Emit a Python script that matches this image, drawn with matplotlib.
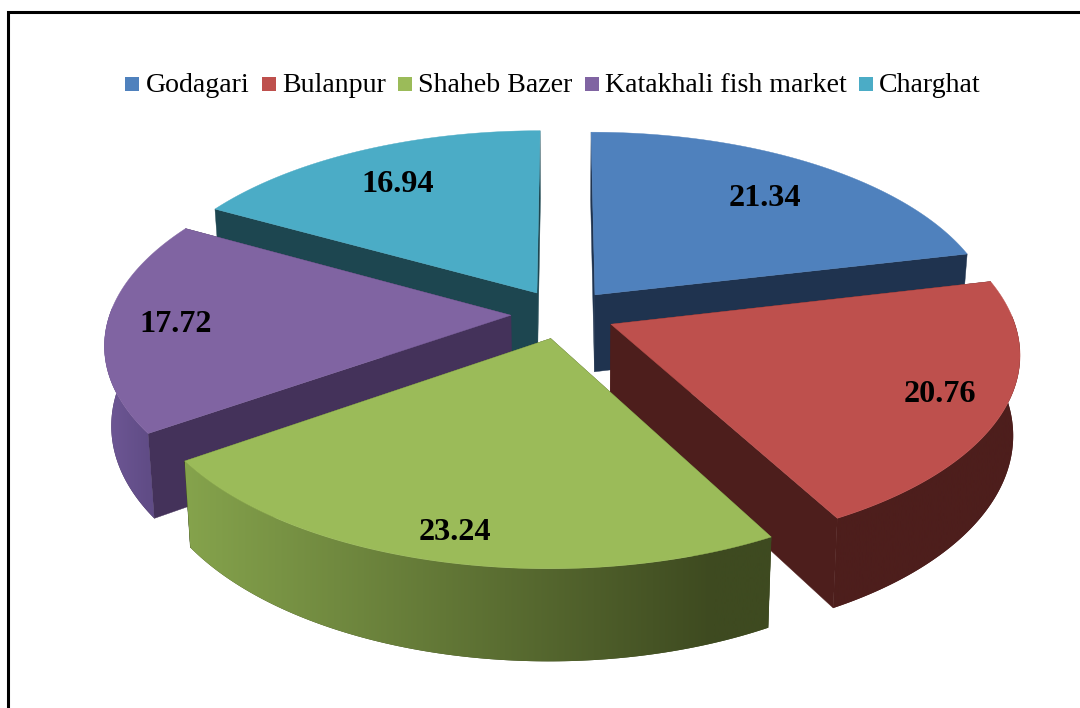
import numpy as np
import matplotlib
matplotlib.use("Agg")
import matplotlib.pyplot as plt
from matplotlib.colors import LinearSegmentedColormap
from matplotlib.patches import Polygon

markets = ["Godagari", "Bulanpur", "Shaheb Bazer", "Katakhali fish market", "Charghat"]
shares = [21.34, 20.76, 23.24, 17.72, 16.94]

top_colors = ["#4F81BD", "#BE504D", "#9BBB59", "#8064A2", "#4BACC6"]
cut_colors = ["#1F334F", "#4D1E1C", "#3E4A20", "#44325A", "#1D4650"]
# outer wall colour at left and right end of the wall
wall_left = ["#1F334F", "#4D1E1C", "#85A34C", "#6F5896", "#1D4650"]
wall_right = ["#1F334F", "#4D1E1C", "#3E4A20", "#604C86", "#1D4650"]

legend_pos = [(125, 146), (262, 282), (398, 418), (585, 605), (859, 879)]
label_pos = [(765, 195), (940, 391), (455, 529), (176, 321), (398, 181)]

# pie geometry in pixels
CX, CY = 563, 314
R = 401
TILT = 0.475
PERSP = 0.14
EXPLODE = 0.13
DEPTH = 78
SHRINK = 0.985


def project(u, v):
    s = 1 / (1 + PERSP * v)
    return CX + R * u * s, CY - R * TILT * v * s, s


def bottom(u, v):
    x, y, s = project(u, v)
    return CX + (x - CX) * SHRINK, y + DEPTH * s


fig = plt.figure(figsize=(10.8, 7.08), dpi=100)
ax = fig.add_axes([0, 0, 1, 1])
ax.set_xlim(0, 1080)
ax.set_ylim(708, 0)
ax.axis("off")

# frame, only left and top are in the picture
ax.plot([8, 8, 1080], [708, 12, 12], color="black", lw=2.2, solid_joinstyle="miter")

edges = np.radians(np.cumsum([0] + shares) * 3.6)
starts, ends = edges[:-1], edges[1:]

# back slices first
for rank, i in enumerate([4, 0, 3, 1, 2]):
    z = 2 + rank
    mid = (starts[i] + ends[i]) / 2
    ou, ov = EXPLODE * np.sin(mid), EXPLODE * np.cos(mid)
    th = np.linspace(starts[i], ends[i], 121)
    u = ou + np.sin(th)
    v = ov + np.cos(th)
    tx, ty, _ = project(u, v)
    bx, by = bottom(u, v)
    ax_, ay_, _ = project(ou, ov)

    # the two cut faces
    for j in [0, -1]:
        bx0, by0 = bottom(ou, ov)
        ax.add_patch(Polygon([(ax_, ay_), (tx[j], ty[j]), (bx[j], by[j]), (bx0, by0)],
                             fc=cut_colors[i], ec=cut_colors[i], lw=0.3, zorder=z))

    # outer wall, shaded from left to right, only the part that faces the viewer
    front = np.cos(th) < 0.05
    if front.any():
        pts = list(zip(tx[front], ty[front])) + list(zip(bx[front][::-1], by[front][::-1]))
        wall = Polygon(pts, fc=cut_colors[i], ec="none", zorder=z + 0.1)
        ax.add_patch(wall)
        x0, x1 = min(bx[front].min(), tx[front].min()), max(bx[front].max(), tx[front].max())
        cmap = LinearSegmentedColormap.from_list(
            "w", [(0, wall_left[i]), (0.9, wall_right[i]), (1, wall_right[i])])
        im = ax.imshow(np.linspace(0, 1, 256).reshape(1, -1), cmap=cmap, aspect="auto",
                       extent=(x0, x1, 708, 0), zorder=z + 0.2, interpolation="bilinear")
        im.set_clip_path(wall)

    ax.add_patch(Polygon([(ax_, ay_)] + list(zip(tx, ty)), fc=top_colors[i], ec=top_colors[i],
                         lw=0.3, zorder=z + 0.5))

ax.set_xlim(0, 1080)
ax.set_ylim(708, 0)

for i, name in enumerate(markets):
    sq, tx0 = legend_pos[i]
    ax.add_patch(Polygon([(sq, 76.5), (sq + 14, 76.5), (sq + 14, 90.5), (sq, 90.5)],
                         fc=top_colors[i], ec="none"))
    ax.text(tx0, 83, name, family="Liberation Serif", fontsize=20.1, color="black",
            ha="left", va="center_baseline", zorder=20)
    ax.text(label_pos[i][0], label_pos[i][1], "%.2f" % shares[i], family="Liberation Serif",
            fontsize=23.2, fontweight="bold", color="black", ha="center", va="center_baseline",
            zorder=20)

fig.savefig("out.png", dpi=100, facecolor="white")
